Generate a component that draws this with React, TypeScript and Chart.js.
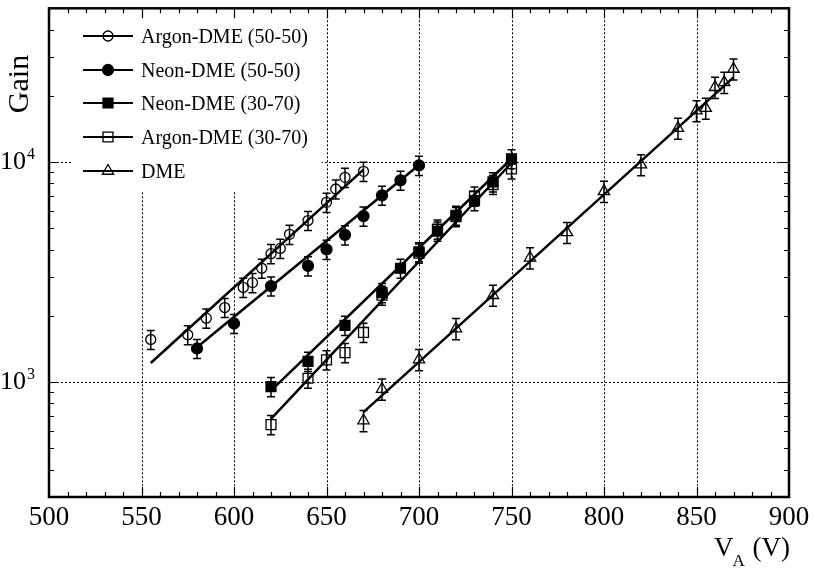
import React, { useEffect, useRef } from 'react';
import { Chart, registerables } from 'chart.js';

Chart.register(...registerables);

const SERIF = '"Liberation Serif", "Times New Roman", Times, serif';

// Anode voltage V_A (V) and measured gain, per gas mixture
const argon5050V = [555, 575, 585, 595, 605, 610, 615, 620, 625, 630, 640, 650, 655, 660, 670];
const argon5050G = [1560, 1640, 1950, 2180, 2690, 2830, 3290, 3830, 4050, 4690, 5420, 6560, 7540, 8520, 9070];

const neon5050V = [580, 600, 620, 640, 650, 660, 670, 680, 690, 700];
const neon5050G = [1420, 1845, 2730, 3370, 4010, 4660, 5680, 7060, 8260, 9660];

const neon3070V = [620, 640, 660, 680, 690, 700, 710, 720, 730, 740, 750];
const neon3070G = [952, 1240, 1810, 2550, 3290, 3910, 4850, 5730, 6680, 8120, 10350];

const argon3070V = [620, 640, 650, 660, 670, 680, 700, 710, 720, 730, 740, 750];
const argon3070G = [640, 1040, 1260, 1360, 1680, 2480, 3850, 4950, 5650, 7000, 7900, 9300];

const dmeV = [670, 680, 700, 720, 740, 760, 780, 800, 820, 840, 850, 855, 860, 865, 870];
const dmeG = [668, 929, 1265, 1750, 2480, 3670, 4790, 7360, 9725, 14250, 17130, 17580, 21880, 23040, 26490];

// Relative error (±) of each mixture's gain points
const argon5050Err = 0.1;
const neon5050Err = 0.1;
const neon3070Err = 0.1;
const argon3070Err = 0.1;
const dmeErr = 0.11;

// Fitted exponential lines: end points (V, gain)
const argon5050FitV = [555, 670];
const argon5050FitG = [1220, 9230];
const neon5050FitV = [580, 700];
const neon5050FitG = [1440, 9700];
const neon3070FitV = [620, 750];
const neon3070FitG = [914, 10350];
const argon3070FitV = [620, 750];
const argon3070FitG = [680, 9900];
const dmeFitV = [670, 870];
const dmeFitG = [729, 24260];

const seriesLabels = ['Argon-DME (50-50)', 'Neon-DME (50-50)', 'Neon-DME (30-70)', 'Argon-DME (30-70)', 'DME'];

// Axes
const xMin = 500;
const xMax = 900;
const xStep = 50;
const xMinorStep = 10;
const yMin = 300;
const yMax = 50000;
const xTitleMain = 'V';
const xTitleSub = 'A';
const xTitleTail = ' (V)';
const yTitle = 'Gain';

type Spec = {
  label: string; v: number[]; g: number[]; err: number; fitV: number[]; fitG: number[];
  style: 'circle' | 'rect' | 'triangle'; filled: boolean; r: number;
};

const toPts = (v: number[], g: number[]) => v.map((x, i) => ({ x, y: g[i] }));

function drawMarker(ctx: CanvasRenderingContext2D, s: Spec, x: number, y: number) {
  ctx.beginPath();
  const r = s.r;
  if (s.style === 'circle') {
    ctx.arc(x, y, r, 0, Math.PI * 2);
  } else if (s.style === 'rect') {
    const h = r * Math.SQRT1_2;
    ctx.rect(x - h, y - h, 2 * h, 2 * h);
  } else {
    const w = Math.sin(Math.PI / 3) * r;
    ctx.moveTo(x, y - r);
    ctx.lineTo(x + w, y + r / 2);
    ctx.lineTo(x - w, y + r / 2);
    ctx.closePath();
  }
  if (s.filled) {
    ctx.fillStyle = '#000';
    ctx.fill();
  }
  ctx.strokeStyle = '#000';
  ctx.lineWidth = 1.3;
  ctx.stroke();
}

export default function App() {
  const ref = useRef<HTMLCanvasElement>(null);

  useEffect(() => {
    const canvas = ref.current;
    if (!canvas) return;

    const specs: Spec[] = [
      { label: seriesLabels[0], v: argon5050V, g: argon5050G, err: argon5050Err, fitV: argon5050FitV, fitG: argon5050FitG, style: 'circle', filled: false, r: 5 },
      { label: seriesLabels[1], v: neon5050V, g: neon5050G, err: neon5050Err, fitV: neon5050FitV, fitG: neon5050FitG, style: 'circle', filled: true, r: 5.5 },
      { label: seriesLabels[2], v: neon3070V, g: neon3070G, err: neon3070Err, fitV: neon3070FitV, fitG: neon3070FitG, style: 'rect', filled: true, r: 7 },
      { label: seriesLabels[3], v: argon3070V, g: argon3070G, err: argon3070Err, fitV: argon3070FitV, fitG: argon3070FitG, style: 'rect', filled: false, r: 7 },
      { label: seriesLabels[4], v: dmeV, g: dmeG, err: dmeErr, fitV: dmeFitV, fitG: dmeFitG, style: 'triangle', filled: false, r: 6.5 },
    ];

    const pointSets: any[] = specs.map((s) => ({
      label: s.label,
      data: toPts(s.v, s.g),
      showLine: false,
      pointStyle: s.style,
      pointRadius: s.r,
      pointBackgroundColor: s.filled ? '#000' : 'rgba(0,0,0,0)',
      pointBorderColor: '#000',
      pointBorderWidth: 1.3,
      relErr: s.err,
    }));
    const fitSets: any[] = specs.map((s) => ({
      label: s.label + ' fit',
      data: toPts(s.fitV, s.fitG),
      showLine: true,
      pointRadius: 0,
      borderColor: '#000',
      borderWidth: 2.5,
      fill: false,
    }));

    const legendBox = { x0: 73, y1: 190 };
    const legendRows = [36, 70, 103, 137, 171];

    const decor = {
      id: 'decor',
      beforeDatasetsDraw(chart: any) {
        const { ctx, chartArea: a } = chart;
        const xs = chart.scales.x;
        const ys = chart.scales.y;
        ctx.save();
        // dotted grid at major ticks
        ctx.strokeStyle = '#000';
        ctx.lineWidth = 1;
        ctx.setLineDash([2, 2]);
        xs.ticks.forEach((t: any) => {
          if (t.value <= xMin || t.value >= xMax) return;
          const px = Math.round(xs.getPixelForValue(t.value)) + 0.5;
          ctx.beginPath();
          ctx.moveTo(px, a.top);
          ctx.lineTo(px, a.bottom);
          ctx.stroke();
        });
        for (let e = Math.ceil(Math.log10(yMin)); Math.pow(10, e) < yMax; e++) {
          const py = Math.round(ys.getPixelForValue(Math.pow(10, e))) + 0.5;
          ctx.beginPath();
          ctx.moveTo(a.left, py);
          ctx.lineTo(a.right, py);
          ctx.stroke();
        }
        ctx.setLineDash([]);
        // legend background hides grid
        ctx.fillStyle = '#fff';
        ctx.fillRect(legendBox.x0, a.top + 1, 322 - legendBox.x0, legendBox.y1 - a.top);
        // error bars
        ctx.strokeStyle = '#000';
        ctx.lineWidth = 1.5;
        chart.data.datasets.forEach((ds: any) => {
          if (!ds.relErr) return;
          ds.data.forEach((p: any) => {
            const px = xs.getPixelForValue(p.x);
            const hi = ys.getPixelForValue(p.y * (1 + ds.relErr));
            const lo = ys.getPixelForValue(p.y * (1 - ds.relErr));
            ctx.beginPath();
            ctx.moveTo(px, hi);
            ctx.lineTo(px, lo);
            ctx.moveTo(px - 4, hi);
            ctx.lineTo(px + 4, hi);
            ctx.moveTo(px - 4, lo);
            ctx.lineTo(px + 4, lo);
            ctx.stroke();
          });
        });
        ctx.restore();
      },
      afterDatasetsDraw(chart: any) {
        const { ctx, chartArea: a } = chart;
        const xs = chart.scales.x;
        const ys = chart.scales.y;
        ctx.save();
        ctx.strokeStyle = '#000';
        // tick marks, inward on all four sides
        ctx.lineWidth = 1.2;
        for (let v = xMin + xMinorStep; v < xMax; v += xMinorStep) {
          const px = Math.round(xs.getPixelForValue(v)) + 0.5;
          const len = v % xStep === 0 ? 10 : 5;
          ctx.beginPath();
          ctx.moveTo(px, a.bottom);
          ctx.lineTo(px, a.bottom - len);
          ctx.moveTo(px, a.top);
          ctx.lineTo(px, a.top + len);
          ctx.stroke();
        }
        for (let e = Math.floor(Math.log10(yMin)); e <= Math.ceil(Math.log10(yMax)); e++) {
          for (let m = 1; m <= 9; m++) {
            const v = m * Math.pow(10, e);
            if (v <= yMin || v >= yMax) continue;
            const py = Math.round(ys.getPixelForValue(v)) + 0.5;
            const len = m === 1 ? 10 : 5;
            ctx.beginPath();
            ctx.moveTo(a.left, py);
            ctx.lineTo(a.left + len, py);
            ctx.moveTo(a.right, py);
            ctx.lineTo(a.right - len, py);
            ctx.stroke();
          }
        }
        // frame
        ctx.lineWidth = 2.5;
        ctx.strokeRect(a.left, a.top, a.right - a.left, a.bottom - a.top);

        // y tick labels 10^n
        ctx.fillStyle = '#000';
        for (let e = Math.ceil(Math.log10(yMin)); Math.pow(10, e) < yMax; e++) {
          const py = ys.getPixelForValue(Math.pow(10, e));
          ctx.font = `26px ${SERIF}`;
          ctx.textAlign = 'right';
          ctx.textBaseline = 'alphabetic';
          ctx.fillText('10', 26, py + 7);
          ctx.font = `16px ${SERIF}`;
          ctx.textAlign = 'left';
          ctx.fillText(String(e), 27, py - 3);
        }

        // axis titles
        ctx.save();
        ctx.translate(28, 84);
        ctx.rotate(-Math.PI / 2);
        ctx.font = `30px ${SERIF}`;
        ctx.textAlign = 'center';
        ctx.textBaseline = 'alphabetic';
        ctx.fillText(yTitle, 0, 0);
        ctx.restore();

        ctx.textAlign = 'left';
        ctx.textBaseline = 'alphabetic';
        ctx.font = `27px ${SERIF}`;
        const wMain = ctx.measureText(xTitleMain).width;
        const wTail = ctx.measureText(xTitleTail).width;
        ctx.font = `17px ${SERIF}`;
        const wSub = ctx.measureText(xTitleSub).width;
        const xEnd = 790;
        const x0 = xEnd - wTail - wSub - wMain;
        ctx.font = `27px ${SERIF}`;
        ctx.fillText(xTitleMain, x0, 556);
        ctx.fillText(xTitleTail, x0 + wMain + wSub, 556);
        ctx.font = `17px ${SERIF}`;
        ctx.fillText(xTitleSub, x0 + wMain - 1, 566);

        // legend
        specs.forEach((s, i) => {
          const yy = legendRows[i];
          ctx.strokeStyle = '#000';
          ctx.lineWidth = 2;
          ctx.beginPath();
          ctx.moveTo(83, yy);
          ctx.lineTo(133, yy);
          ctx.stroke();
          drawMarker(ctx, s, 108, yy);
          ctx.fillStyle = '#000';
          ctx.font = `20px ${SERIF}`;
          ctx.textAlign = 'left';
          ctx.textBaseline = 'alphabetic';
          ctx.fillText(s.label, 141, yy + 7);
        });
        ctx.restore();
      },
    };

    const chart = new Chart(canvas, {
      type: 'scatter',
      data: { datasets: [...pointSets, ...fitSets] },
      options: {
        responsive: true,
        maintainAspectRatio: false,
        animation: false,
        events: [],
        layout: { padding: { top: 5, right: 26, left: 0, bottom: 0 } },
        plugins: { legend: { display: false }, tooltip: { enabled: false } },
        scales: {
          x: {
            type: 'linear',
            min: xMin,
            max: xMax,
            grid: { display: false, drawTicks: false },
            border: { display: false },
            ticks: {
              stepSize: xStep,
              autoSkip: false,
              maxRotation: 0,
              color: '#000',
              padding: 5,
              font: { family: SERIF, size: 27 },
            },
            afterFit: (s: any) => { s.height = 74; },
          },
          y: {
            type: 'logarithmic',
            min: yMin,
            max: yMax,
            grid: { display: false, drawTicks: false },
            border: { display: false },
            ticks: { display: false },
            afterFit: (s: any) => { s.width = 49; },
          },
        },
      } as any,
      plugins: [decor],
    });
    return () => chart.destroy();
  }, []);

  return (
    <div style={{ position: 'fixed', left: 0, top: 0, width: 815, height: 571, background: '#fff' }}>
      <canvas ref={ref} />
    </div>
  );
}
